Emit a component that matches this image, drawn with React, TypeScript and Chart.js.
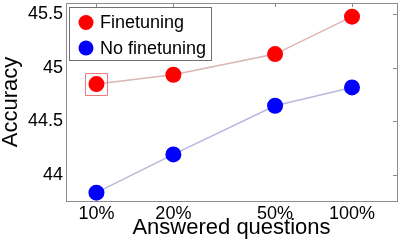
import React, { useEffect, useRef } from "react";
import { Chart, registerables } from "chart.js";

Chart.register(...registerables);

const answered = [10, 20, 50, 100];
const finetuning = [44.848, 44.935, 45.128, 45.478];
const noFinetuning = [43.832, 44.19, 44.645, 44.816];
const yTicks = [44, 44.5, 45, 45.5];
const seriesLabels = ["Finetuning", "No finetuning"];

const FONT = "'Liberation Sans', Arial, Helvetica, sans-serif";

const framePlugin = {
  id: "frame",
  afterDraw(chart: any) {
    const { ctx, chartArea } = chart;
    const { left, right, top, bottom } = chartArea;
    const xs = chart.scales.x;
    const ys = chart.scales.y;
    ctx.save();
    ctx.strokeStyle = "#8c8c8c";
    ctx.lineWidth = 1;
    ctx.strokeRect(Math.round(left) + 0.5, Math.round(top) + 0.5, Math.round(right - left), Math.round(bottom - top));
    ctx.beginPath();
    answered.forEach((v) => {
      const px = Math.round(xs.getPixelForValue(v)) + 0.5;
      ctx.moveTo(px, top);
      ctx.lineTo(px, top + 4);
    });
    yTicks.forEach((v) => {
      const py = Math.round(ys.getPixelForValue(v)) + 0.5;
      ctx.moveTo(right, py);
      ctx.lineTo(right - 4, py);
    });
    ctx.stroke();

    // highlight box around first finetuning point
    const pt = chart.getDatasetMeta(0).data[0];
    ctx.beginPath();
    ctx.strokeStyle = "#f07a7a";
    ctx.rect(Math.round(pt.x - 11) + 0.5, Math.round(pt.y - 11) + 0.5, 22, 22);
    ctx.stroke();

    // legend
    const lx = Math.round(left) + 3.5;
    const ly = Math.round(top) + 4.5;
    ctx.fillStyle = "#ffffff";
    ctx.fillRect(lx, ly, 142, 53);
    ctx.strokeStyle = "#707070";
    ctx.strokeRect(lx, ly, 142, 53);
    const colors = ["#ff0000", "#0000ff"];
    ctx.font = `18px ${FONT}`;
    ctx.textBaseline = "middle";
    ctx.textAlign = "left";
    seriesLabels.forEach((lab, i) => {
      const cy = ly + 15 + i * 25.5;
      ctx.beginPath();
      ctx.fillStyle = colors[i];
      ctx.arc(lx + 16.5, cy, 7.5, 0, Math.PI * 2);
      ctx.fill();
      ctx.fillStyle = "#000";
      ctx.fillText(lab, lx + 30.5, cy + 1);
    });
    ctx.restore();
  },
};

export default function App() {
  const ref = useRef<HTMLCanvasElement>(null);
  useEffect(() => {
    const chart = new Chart(ref.current!, {
      type: "line",
      data: {
        datasets: [
          {
            label: seriesLabels[0],
            data: answered.map((x, i) => ({ x, y: finetuning[i] })),
            borderColor: "#dcb4b4",
            backgroundColor: "#ff0000",
            pointBackgroundColor: "#ff0000",
            pointBorderWidth: 0,
            pointRadius: 8,
            borderWidth: 1.5,
          },
          {
            label: seriesLabels[1],
            data: answered.map((x, i) => ({ x, y: noFinetuning[i] })),
            borderColor: "#b8b8dc",
            backgroundColor: "#0000ff",
            pointBackgroundColor: "#0000ff",
            pointBorderWidth: 0,
            pointRadius: 8,
            borderWidth: 1.5,
          },
        ],
      },
      options: {
        responsive: false,
        animation: false,
        layout: { autoPadding: false, padding: { top: 3, right: 3, left: 0, bottom: 0 } },
        plugins: { legend: { display: false }, tooltip: { enabled: false } },
        scales: {
          x: {
            type: "logarithmic",
            min: 7.6,
            max: 150,
            afterBuildTicks: (s: any) => {
              s.ticks = answered.map((v) => ({ value: v }));
            },
            afterFit: (s: any) => {
              s.height = 45;
              s.paddingLeft = 0;
              s.paddingRight = 0;
              s.paddingTop = 0;
              s.paddingBottom = 0;
            },
            ticks: {
              autoSkip: false,
              maxRotation: 0,
              padding: 2,
              color: "#000",
              font: { size: 18, family: FONT },
              callback: (v: any) => `${v}%`,
            },
            grid: { display: false, drawTicks: false },
            border: { display: false },
            title: {
              display: true,
              text: "Answered questions",
              color: "#000",
              font: { size: 22, family: FONT, lineHeight: 1 },
              padding: { top: 0, bottom: 7 },
            },
          },
          y: {
            min: 43.754,
            max: 45.606,
            afterBuildTicks: (s: any) => {
              s.ticks = yTicks.map((v) => ({ value: v }));
            },
            afterFit: (s: any) => {
              s.width = 66;
              s.paddingLeft = 0;
              s.paddingRight = 0;
              s.paddingTop = 0;
              s.paddingBottom = 0;
            },
            ticks: {
              padding: 3,
              color: "#000",
              font: { size: 18, family: FONT },
              callback: (v: any) => `${v}`,
            },
            grid: { display: false, drawTicks: false },
            border: { display: false },
            title: {
              display: true,
              text: "Accuracy",
              color: "#000",
              font: { size: 22, family: FONT, lineHeight: 1 },
              padding: { top: 0, bottom: 0 },
            },
          },
        },
      },
      plugins: [framePlugin],
    } as any);
    return () => chart.destroy();
  }, []);
  return (
    <div style={{ position: "absolute", left: 0, top: 0, width: 400, height: 246, background: "#fff" }}>
      <canvas ref={ref} width={400} height={246} />
    </div>
  );
}
